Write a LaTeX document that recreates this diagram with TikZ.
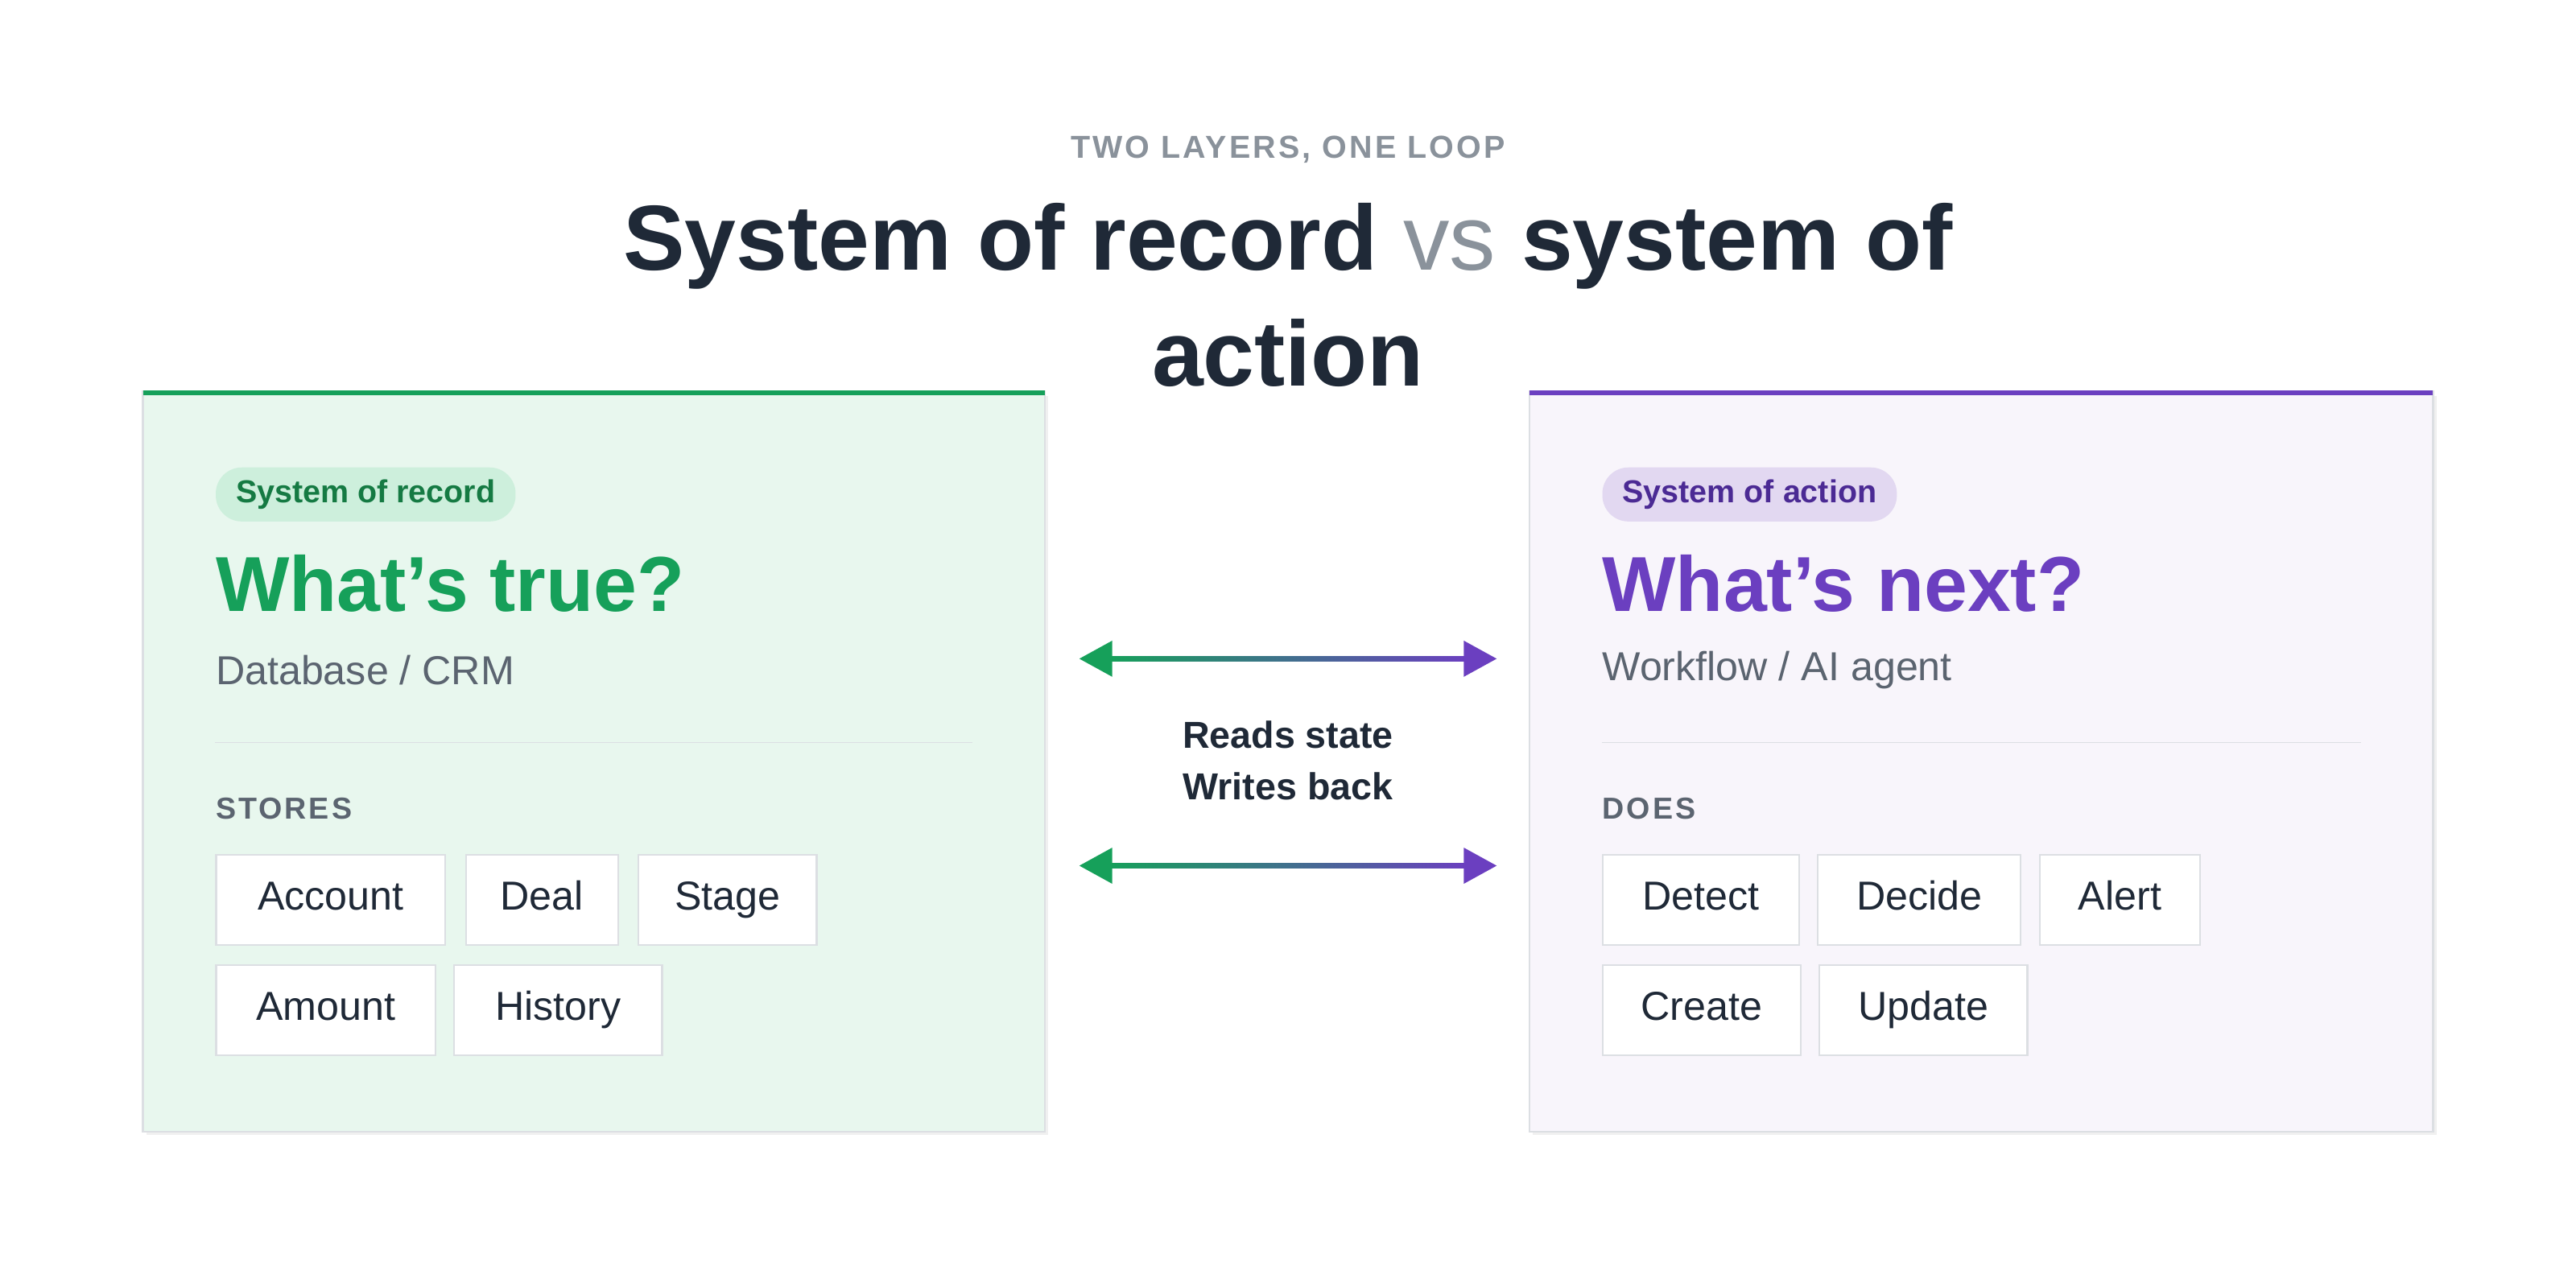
\documentclass[tikz,border=0pt]{standalone}
\usepackage{fontspec}
\setmainfont{Liberation Sans}
\newfontfamily\spaced[LetterSpace=8]{Liberation Sans}
\usetikzlibrary{positioning}

\definecolor{ink}{HTML}{1F2937}
\definecolor{mute}{HTML}{5B6470}
\definecolor{grey}{HTML}{8A929B}
\definecolor{recgreen}{HTML}{16A05A}
\definecolor{recdark}{HTML}{157A43}
\definecolor{recfill}{HTML}{E8F7EE}
\definecolor{recpill}{HTML}{CDEFDC}
\definecolor{actpurple}{HTML}{6B3FC0}
\definecolor{actdark}{HTML}{4B2A94}
\definecolor{actfill}{HTML}{F8F5FB}
\definecolor{actpill}{HTML}{E2D8F1}
\definecolor{edge}{HTML}{DCDFE3}

\newcommand{\apos}{{\char"0027}}

\tikzset{
  card/.style={draw=edge, line width=0.6pt},
  pill/.style={rounded corners=9pt, minimum height=33*0.567pt, inner xsep=7pt,
    font=\bfseries\fontsize{11}{13}\selectfont, anchor=west},
  head/.style={anchor=base west, inner xsep=0pt, font=\bfseries\fontsize{27}{30}\selectfont},
  sub/.style={anchor=west, inner xsep=0pt, text=mute, font=\fontsize{14}{16}\selectfont},
  section/.style={anchor=west, inner xsep=0pt, text=mute, font=\spaced\bfseries\fontsize{10.5}{12}\selectfont},
  tag/.style={draw=edge, fill=white, line width=0.6pt, anchor=north west,
    minimum height=55*0.567pt, inner xsep=11pt, text height=10pt, text depth=3pt,
    text=ink, font=\fontsize{14}{16}\selectfont},
}

\begin{document}
\begin{tikzpicture}[x=0.02cm, y=-0.02cm]
  \useasboundingbox[fill=white] (0,0) rectangle (1568,776);

  % title
  \node[text=grey, font=\spaced\bfseries\fontsize{11}{13}\selectfont] (kicker) at (784,91) {TWO LAYERS, ONE LOOP};
  \node[text=ink, font=\bfseries\fontsize{32}{36}\selectfont] (title1) at (784,150)
    {System of record \textcolor{grey}{\mdseries vs} system of};
  \node[text=ink, font=\bfseries\fontsize{32}{36}\selectfont] (title2) at (784,215) {action};

  % left card
  \fill[black!6] (89,241) rectangle (638,691);
  \filldraw[card, fill=recfill] (87,238) rectangle (636,689);
  \draw[recgreen, line width=1.8pt] (87,239) -- (636,239);
  \node[pill, fill=recpill, text=recdark] (recpill) at (131,301) {System of record};
  \node[head, text=recgreen] (rechead) at (131,372) {What\apos s true?};
  \node[sub] (recsub) at (131,408) {Database / CRM};
  \draw[edge, line width=0.5pt] (131,452) -- (592,452);
  \node[section] (stores) at (131,492) {STORES};
  \node[tag, minimum width=140*0.567pt] (account) at (131,520) {Account};
  \node[tag, minimum width=93*0.567pt] (deal) at (283,520) {Deal};
  \node[tag, minimum width=109*0.567pt] (stage) at (388,520) {Stage};
  \node[tag, minimum width=134*0.567pt] (amount) at (131,587) {Amount};
  \node[tag, minimum width=127*0.567pt] (history) at (276,587) {History};

  % right card
  \fill[black!6] (933,241) rectangle (1483,691);
  \filldraw[card, fill=actfill] (931,238) rectangle (1481,689);
  \draw[actpurple, line width=1.8pt] (931,239) -- (1481,239);
  \node[pill, fill=actpill, text=actdark] (actpill) at (975,301) {System of action};
  \node[head, text=actpurple] (acthead) at (975,372) {What\apos s next?};
  \node[sub] (actsub) at (975,408) {Workflow / AI agent};
  \draw[edge, line width=0.5pt] (975,452) -- (1437,452);
  \node[section] (does) at (975,492) {DOES};
  \node[tag, minimum width=120*0.567pt] (detect) at (975,520) {Detect};
  \node[tag, minimum width=124*0.567pt] (decide) at (1106,520) {Decide};
  \node[tag, minimum width=98*0.567pt] (alert) at (1241,520) {Alert};
  \node[tag, minimum width=121*0.567pt] (create) at (975,587) {Create};
  \node[tag, minimum width=127*0.567pt] (update) at (1107,587) {Update};

  % loop arrows
  \foreach \y/\n in {401/reads, 527/writes} {
    \coordinate (\n-l) at (657,\y);
    \coordinate (\n-r) at (911,\y);
    \shade[left color=recgreen, right color=actpurple]
      (675,\y-1.6) rectangle (893,\y+1.6);
    \fill[recgreen] (\n-l) -- ++(20,-11) -- ++(0,22) -- cycle;
    \fill[actpurple] (\n-r) -- ++(-20,-11) -- ++(0,22) -- cycle;
  }
  \node[text=ink, font=\bfseries\fontsize{13}{18}\selectfont, align=center] (loop) at (784,463)
    {Reads state\\Writes back};
\end{tikzpicture}
\end{document}
